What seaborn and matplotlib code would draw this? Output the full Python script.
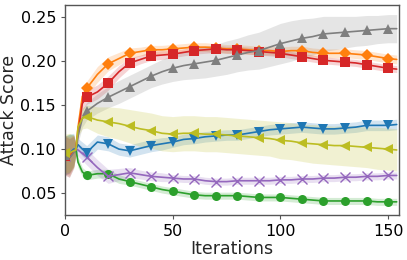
import numpy as np
import pandas as pd
import matplotlib
matplotlib.use("Agg")
import matplotlib.pyplot as plt
import seaborn as sns

# ── Data ────────────────────────────────────────────────────────────────────
iters = [0, 2, 4, 5, 6, 8, 10, 15, 20, 25, 30, 35, 40, 45, 50, 55, 60, 65, 70, 75,
         80, 85, 90, 95, 100, 105, 110, 115, 120, 125, 130, 135, 140, 145, 150, 154]

orange = [0.094, 0.092, 0.098, 0.100, 0.125, 0.160, 0.169, 0.185, 0.197, 0.203, 0.209,
          0.211, 0.213, 0.213, 0.214, 0.215, 0.216, 0.216, 0.215, 0.214, 0.214, 0.213,
          0.212, 0.212, 0.211, 0.212, 0.212, 0.210, 0.209, 0.209, 0.209, 0.208, 0.207,
          0.205, 0.203, 0.202]
red = [0.092, 0.090, 0.097, 0.100, 0.118, 0.152, 0.159, 0.165, 0.175, 0.188, 0.198,
       0.202, 0.206, 0.207, 0.208, 0.210, 0.212, 0.213, 0.214, 0.213, 0.213, 0.212,
       0.211, 0.210, 0.209, 0.207, 0.205, 0.203, 0.201, 0.200, 0.199, 0.198, 0.196,
       0.194, 0.192, 0.191]
gray = [0.093, 0.090, 0.096, 0.100, 0.115, 0.135, 0.143, 0.152, 0.159, 0.165, 0.171,
        0.177, 0.183, 0.188, 0.192, 0.195, 0.197, 0.199, 0.201, 0.204, 0.207, 0.210,
        0.212, 0.216, 0.220, 0.223, 0.226, 0.228, 0.231, 0.232, 0.233, 0.234, 0.235,
        0.236, 0.237, 0.237]
olive = [0.095, 0.096, 0.098, 0.099, 0.125, 0.135, 0.137, 0.133, 0.131, 0.129, 0.126,
         0.123, 0.121, 0.118, 0.117, 0.118, 0.118, 0.117, 0.117, 0.116, 0.115, 0.114,
         0.113, 0.112, 0.110, 0.109, 0.107, 0.106, 0.105, 0.104, 0.104, 0.103, 0.102,
         0.101, 0.100, 0.099]
blue = [0.093, 0.095, 0.100, 0.100, 0.105, 0.100, 0.096, 0.108, 0.106, 0.100, 0.098,
        0.101, 0.104, 0.106, 0.108, 0.111, 0.112, 0.114, 0.115, 0.116, 0.116, 0.118,
        0.120, 0.122, 0.123, 0.124, 0.125, 0.124, 0.123, 0.123, 0.124, 0.125, 0.127,
        0.127, 0.127, 0.128]
purple = [0.092, 0.094, 0.098, 0.100, 0.099, 0.095, 0.091, 0.079, 0.069, 0.071, 0.073,
          0.071, 0.069, 0.068, 0.067, 0.066, 0.066, 0.064, 0.063, 0.063, 0.064, 0.064,
          0.064, 0.064, 0.065, 0.065, 0.066, 0.066, 0.067, 0.067, 0.068, 0.068, 0.069,
          0.069, 0.070, 0.070]
green = [0.093, 0.095, 0.098, 0.100, 0.085, 0.074, 0.070, 0.072, 0.072, 0.066, 0.063,
         0.060, 0.057, 0.054, 0.052, 0.050, 0.048, 0.047, 0.047, 0.047, 0.047, 0.046,
         0.045, 0.045, 0.045, 0.044, 0.043, 0.042, 0.041, 0.041, 0.041, 0.041, 0.041,
         0.040, 0.040, 0.040]

# half-width of the shaded band for each series
orange_sd = [0.022, 0.022, 0.018, 0.006, 0.008, 0.008, 0.008, 0.009, 0.008, 0.007, 0.006,
             0.005, 0.005, 0.005, 0.005, 0.005, 0.005, 0.005, 0.005, 0.005, 0.005, 0.005,
             0.005, 0.005, 0.005, 0.005, 0.005, 0.005, 0.005, 0.005, 0.005, 0.005, 0.005,
             0.005, 0.005, 0.005]
red_sd = [0.022, 0.022, 0.018, 0.006, 0.008, 0.008, 0.008, 0.008, 0.008, 0.007, 0.006,
          0.005, 0.005, 0.005, 0.004, 0.004, 0.004, 0.004, 0.004, 0.004, 0.004, 0.004,
          0.004, 0.004, 0.004, 0.004, 0.004, 0.004, 0.004, 0.004, 0.004, 0.004, 0.004,
          0.004, 0.004, 0.004]
gray_sd = [0.022, 0.022, 0.018, 0.006, 0.008, 0.010, 0.010, 0.011, 0.012, 0.013, 0.013,
           0.013, 0.013, 0.014, 0.015, 0.016, 0.017, 0.018, 0.018, 0.019, 0.019, 0.020,
           0.021, 0.022, 0.023, 0.023, 0.022, 0.021, 0.020, 0.019, 0.018, 0.017, 0.017,
           0.016, 0.016, 0.016]
olive_sd = [0.022, 0.022, 0.018, 0.006, 0.010, 0.012, 0.013, 0.015, 0.017, 0.018, 0.019,
            0.020, 0.020, 0.020, 0.020, 0.020, 0.020, 0.020, 0.020, 0.020, 0.020, 0.020,
            0.020, 0.020, 0.021, 0.021, 0.021, 0.022, 0.022, 0.022, 0.023, 0.023, 0.023,
            0.024, 0.024, 0.024]
blue_sd = [0.022, 0.022, 0.018, 0.006, 0.007, 0.008, 0.008, 0.008, 0.008, 0.007, 0.007,
           0.007, 0.007, 0.007, 0.006, 0.006, 0.006, 0.006, 0.006, 0.006, 0.006, 0.006,
           0.006, 0.006, 0.006, 0.006, 0.006, 0.006, 0.006, 0.006, 0.006, 0.006, 0.006,
           0.006, 0.006, 0.006]
purple_sd = [0.022, 0.022, 0.018, 0.006, 0.007, 0.008, 0.009, 0.009, 0.008, 0.007, 0.006,
             0.005, 0.005, 0.005, 0.004, 0.004, 0.004, 0.004, 0.004, 0.004, 0.004, 0.004,
             0.004, 0.004, 0.004, 0.004, 0.004, 0.004, 0.004, 0.004, 0.004, 0.004, 0.004,
             0.004, 0.004, 0.004]
green_sd = [0.022, 0.022, 0.018, 0.006, 0.006, 0.005, 0.005, 0.005, 0.005, 0.005, 0.004,
            0.004, 0.004, 0.004, 0.004, 0.004, 0.004, 0.004, 0.004, 0.004, 0.004, 0.004,
            0.004, 0.004, 0.004, 0.004, 0.004, 0.004, 0.004, 0.004, 0.004, 0.004, 0.004,
            0.004, 0.004, 0.004]

# (values, band, colour, marker) in drawing order
SERIES = [
    (green, green_sd, "#2ca02c", "o"),
    (purple, purple_sd, "#9467bd", "x"),
    (blue, blue_sd, "#1f77b4", "v"),
    (orange, orange_sd, "#ff7f0e", "D"),
    (red, red_sd, "#d62728", "s"),
    (gray, gray_sd, "#7f7f7f", "^"),
    (olive, olive_sd, "#bcbd22", "<"),
]
SIZES = {"o": 6.5, "x": 6.5, "v": 7, "D": 6, "s": 6.5, "^": 7, "<": 7}

sns.set_theme(style="ticks")
plt.rcParams.update({
    "font.family": "DejaVu Sans",
    "axes.edgecolor": "#555555",
    "axes.linewidth": 1.0,
    "xtick.color": "#555555",
    "ytick.color": "#555555",
    "xtick.labelcolor": "black",
    "ytick.labelcolor": "black",
})

fig = plt.figure(figsize=(4.07, 2.60), dpi=100)
ax = fig.add_axes([0.16, 0.173, 0.82, 0.808])

x = np.array(iters)
marks = [i for i, v in enumerate(iters) if v % 10 == 0]
for vals, sd, col, mk in SERIES:
    y = np.array(vals)
    s = np.array(sd)
    ax.fill_between(x, y - s, y + s, color=col, alpha=0.2, linewidth=0)
    sns.lineplot(x=x, y=y, ax=ax, color=col, marker=mk, markevery=marks,
                 markersize=SIZES[mk], linewidth=1.2,
                 markeredgewidth=1.0 if mk == "x" else 0, markeredgecolor=col)

ax.set_xlim(0, 155)
ax.set_ylim(0.025, 0.264)
ax.set_xticks([0, 50, 100, 150])
ax.set_yticks([0.05, 0.10, 0.15, 0.20, 0.25])
ax.set_yticklabels(["0.05", "0.10", "0.15", "0.20", "0.25"])
ax.tick_params(labelsize=11.5, length=3, width=0.8)
ax.set_xlabel("Iterations", fontsize=12.5, labelpad=1)
ax.set_ylabel("Attack Score", fontsize=12.5, labelpad=2)

fig.savefig("out.png", dpi=100)
plt.close(fig)
